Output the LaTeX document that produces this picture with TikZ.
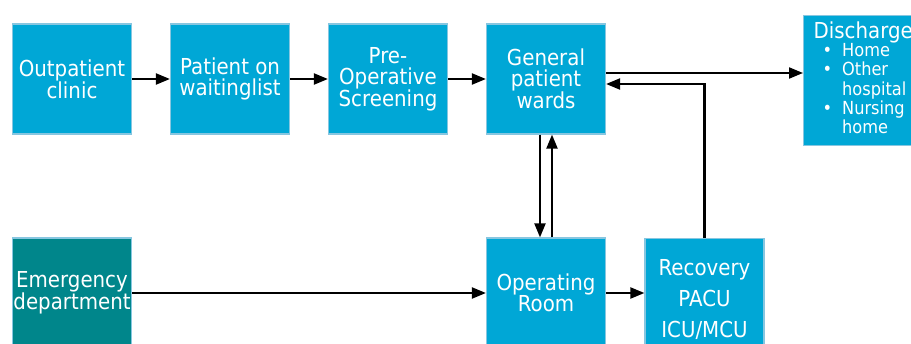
\documentclass[tikz,border=0pt]{standalone}
\usepackage{fontspec}
\setmainfont{DejaVu Sans}[FakeStretch=0.9]
\usetikzlibrary{positioning,arrows.meta}
\definecolor{boxblue}{RGB}{0,167,214}
\definecolor{boxteal}{RGB}{0,134,139}
\definecolor{boxline}{RGB}{135,198,224}
\begin{document}
\begin{tikzpicture}[x=1pt,y=-1pt,node distance=158pt,on grid,
    unit/.style={draw=boxline,fill=boxblue,text=white,line width=1.2pt,
        minimum width=119pt,minimum height=110pt,align=center,inner sep=1pt,
        font=\fontsize{22}{21}\selectfont},
    flow/.style={-{Triangle[length=14pt,width=11pt]},line width=2.1pt}]
    \useasboundingbox (0,0) rectangle (911,343);
    \clip (0,0) rectangle (911,343);
    \node[unit]            (op)  at (72,79)   {Outpatient\\clinic};
    \node[unit]            (wl)  [right=of op] {Patient on\\waitinglist};
    \node[unit]            (pre) [right=of wl] {Pre-\\Operative\\Screening};
    \node[unit]            (gw)  [right=of pre] {General\\patient\\wards};
    \node[unit,anchor=north west,minimum height=130pt,text width=140pt,
          align=left,inner xsep=0pt,inner ysep=0pt] (dis) at (803,15)
        {\hspace*{10pt}Discharge\\[-1pt]
         {\fontsize{18}{18.5}\selectfont
         \begin{tabular}{@{\hspace{19pt}}c@{\hspace{10pt}}l@{}}
         \textbullet & Home\\ \textbullet & Other\\ & hospital\\
         \textbullet & Nursing\\ & home\end{tabular}}\\[2pt]};
    \node[unit,fill=boxteal] (ed) at (72,293) {Emergency\\department};
    \node[unit]            (or)  [below=214pt of gw] {Operating\\Room};
    \node[unit,anchor=north,minimum height=122pt,
          font=\fontsize{22}{31}\selectfont] (rec) at (704.5,238)
        {Recovery\\PACU\\ICU/MCU};
    % top row
    \draw[flow] (op) -- (wl);
    \draw[flow] (wl) -- (pre);
    \draw[flow] (pre) -- (gw);
    \draw[flow] ([yshift=6pt]gw.east) -- ([yshift=6pt]gw.east -| dis.west);
    % wards and theatre
    \draw[flow] ([xshift=-6pt]gw.south) -- ([xshift=-6pt]or.north);
    \draw[flow] ([xshift=6pt]or.north) -- ([xshift=6pt]gw.south);
    % bottom row
    \draw[flow] (ed) -- (or);
    \draw[flow] (or) -- (or.east -| rec.west);
    \draw[flow] (rec.north) |- ([yshift=-5pt]gw.east);
\end{tikzpicture}
\end{document}
